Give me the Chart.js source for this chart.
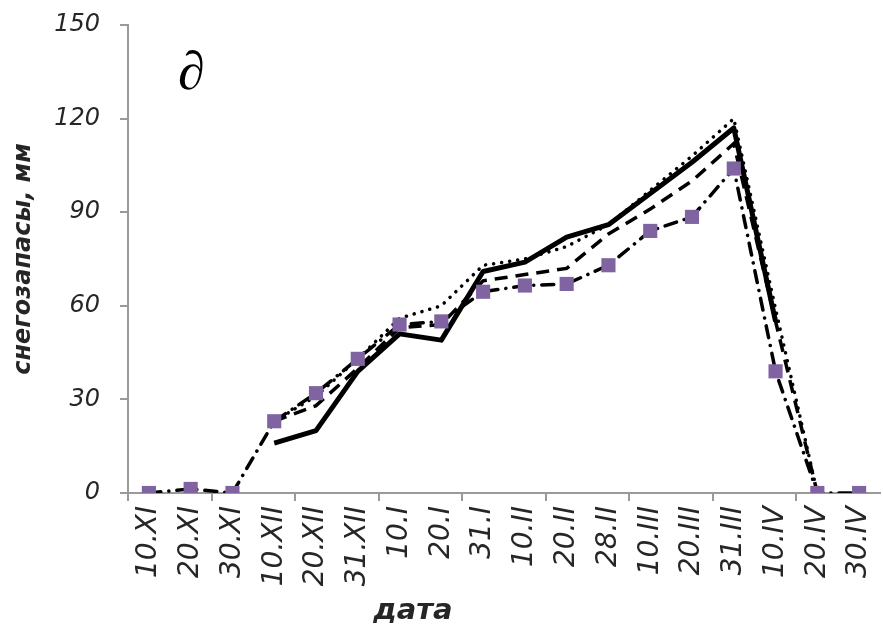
<!DOCTYPE html>
<html><head><meta charset="utf-8">
<script src="https://cdn.jsdelivr.net/npm/chart.js@4"></script>
<style>html,body{margin:0;padding:0;background:#fff;overflow:hidden;}#wrap{width:883px;height:626px;position:relative;overflow:hidden;}</style>
</head><body><div id="wrap"><canvas id="c" width="890" height="626"></canvas></div>
<script>
const categories = ['10.XI','20.XI','30.XI','10.XII','20.XII','31.XII','10.I','20.I','31.I','10.II','20.II','28.II','10.III','20.III','31.III','10.IV','20.IV','30.IV'];
const yTickValues = [0, 30, 60, 90, 120, 150];
const seriesSolid   = [null, null, null, 16, 20, 39, 51, 49, 71, 74, 82, 86, 96, 106, 117, 55, null, null];
const seriesDotted  = [null, null, null, 23, 31, 43, 56, 60, 73, 75, 79, 86, 97, 108, 120, 59, 0, null];
const seriesDashed  = [null, null, null, 23, 28, 40, 53, 54, 68, 70, 72, 83, 91, 100, 112, 55, 0, null];
const seriesSquares = [0, 1.3, 0, 23, 32, 43, 54, 55, 64.5, 66.5, 67, 73, 84, 88.5, 104, 39, 0, 0];
const yTitle = 'снегозапасы, мм';
const xTitle = 'дата';
const panelLetter = '∂';

const AXIS = '#9a9a9a';
const TXT = '#262626';

const extraText = {
  id: 'extraText',
  afterDraw(chart) {
    const ctx = chart.ctx;
    ctx.save();
    ctx.fillStyle = '#000';
    ctx.font = 'italic 54px "Liberation Serif"';
    ctx.textAlign = 'left';
    ctx.textBaseline = 'alphabetic';
    ctx.fillText(panelLetter, 178, 89);
    ctx.fillStyle = TXT;
    ctx.font = 'bold italic 29px "DejaVu Sans"';
    ctx.textAlign = 'center';
    ctx.fillText(xTitle, 413, 619);
    ctx.restore();
  }
};

new Chart(document.getElementById('c'), {
  type: 'line',
  data: {
    labels: categories,
    datasets: [
      { data: seriesSquares, borderColor: '#000', borderWidth: 3.5, borderDash: [12, 8, 0.1, 8], borderCapStyle: 'round',
        pointStyle: 'rect', pointRadius: 10, pointBackgroundColor: '#8064A2', pointBorderWidth: 0, order: 0, spanGaps: false },
      { data: seriesSolid, borderColor: '#000', borderWidth: 5, pointRadius: 0, order: 1, spanGaps: false, borderJoinStyle: 'round' },
      { data: seriesDotted, borderColor: '#000', borderWidth: 3.5, borderDash: [0.1, 8], borderCapStyle: 'round', pointRadius: 0, order: 2, spanGaps: false },
      { data: seriesDashed, borderColor: '#000', borderWidth: 3.5, borderDash: [13, 8], borderCapStyle: 'butt', pointRadius: 0, order: 3, spanGaps: false }
    ]
  },
  options: {
    responsive: false,
    animation: false,
    devicePixelRatio: 1,
    layout: { padding: { top: 25, right: 3, left: 0, bottom: 0 } },
    plugins: { legend: { display: false }, tooltip: { enabled: false } },
    elements: { line: { tension: 0, fill: false } },
    scales: {
      x: {
        type: 'category',
        offset: true,
        grid: {
          offset: true, drawOnChartArea: false, drawTicks: true, tickLength: 8, lineWidth: 2,
          color: (c) => (c.index !== undefined && c.index % 2 === 0) ? AXIS : 'rgba(0,0,0,0)',
          tickColor: (c) => (c.index !== undefined && c.index % 2 === 0) ? AXIS : 'rgba(0,0,0,0)'
        },
        border: { display: true, color: AXIS, width: 2 },
        ticks: { autoSkip: false, minRotation: 90, maxRotation: 90, padding: 5, color: TXT,
          font: { family: '"DejaVu Sans"', size: 28, style: 'italic' } },
        afterFit: (s) => { s.height = 133; s.paddingLeft = 0; s.paddingRight = 0; }
      },
      y: {
        min: 0, max: 150,
        afterBuildTicks: (s) => { s.ticks = yTickValues.map(v => ({ value: v })); },
        grid: { drawOnChartArea: false, drawTicks: true, tickLength: 8, lineWidth: 2, color: AXIS },
        border: { display: true, color: AXIS, width: 2 },
        ticks: { padding: 20, color: TXT, font: { family: '"DejaVu Sans"', size: 24, style: 'italic' } },
        title: { display: true, text: yTitle, color: TXT, padding: { top: 9, bottom: 0 },
          font: { family: '"DejaVu Sans"', size: 24, style: 'italic', weight: 'bold' } },
        afterFit: (s) => { s.width = 128; s.paddingTop = 0; s.paddingBottom = 0; }
      }
    }
  },
  plugins: [extraText]
});
</script></body></html>
